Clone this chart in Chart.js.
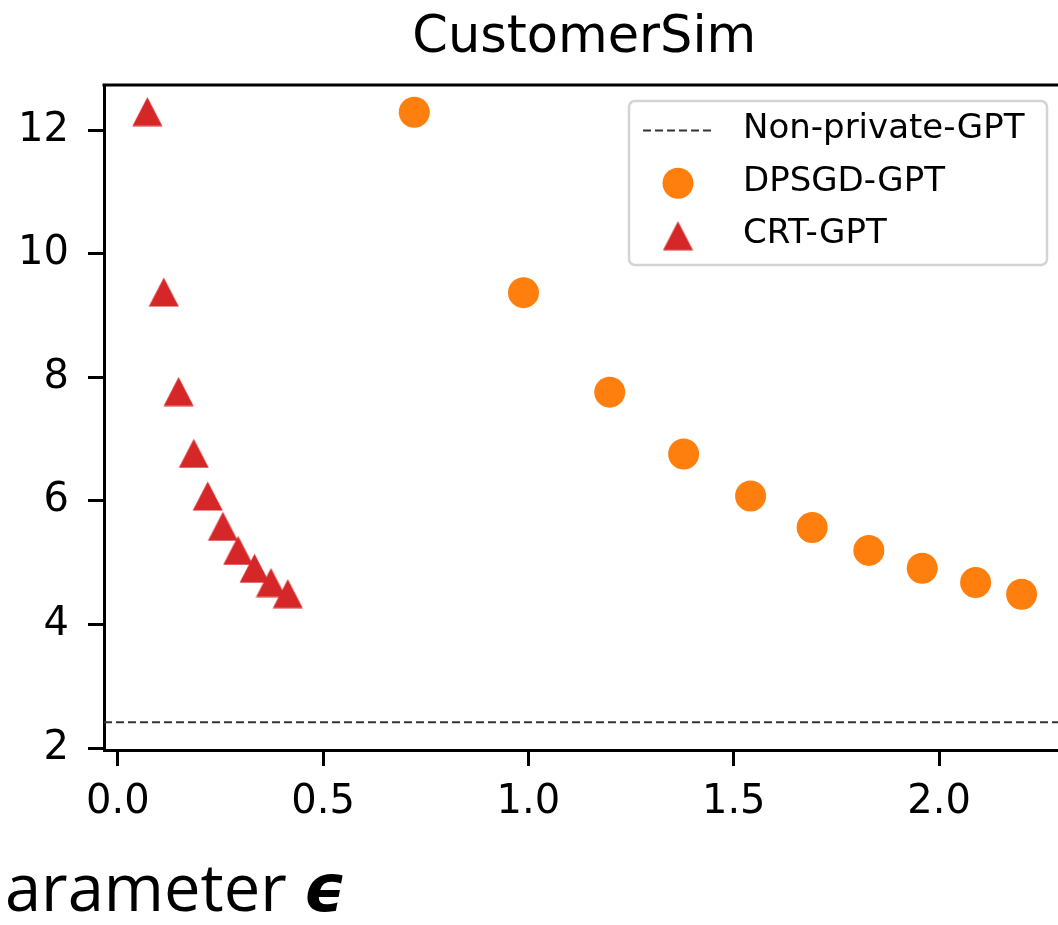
<!DOCTYPE html>
<html>
<head>
<meta charset="utf-8">
<script src="https://cdn.jsdelivr.net/npm/chart.js@4.4.1/dist/chart.umd.min.js"></script>
<style>
  html, body { margin: 0; padding: 0; background: #fff; overflow: hidden; }
  #quadro { position: relative; width: 1058px; height: 925px; overflow: hidden; }
  #grafico { position: absolute; left: 0; top: 0; }
  #rotuloEixo {
    position: absolute; left: 5px; top: 854px;
    font-family: "Open Sans", "DejaVu Sans", sans-serif; font-size: 65px;
    line-height: 1; color: #000; white-space: nowrap;
  }
  #rotuloEixo b { font-family: "DejaVu Sans", sans-serif; font-style: italic; }
</style>
</head>
<body>
<div id="quadro">
  <canvas id="grafico" width="1080" height="925"></canvas>
  <div id="rotuloEixo">arameter <b>ϵ</b></div>
</div>
<script>
const tituloGrafico = "CustomerSim";
const rotulosSeries = ["Non-private-GPT", "DPSGD-GPT", "CRT-GPT"];

// linha de referência (modelo sem privacidade)
const valorNaoPrivado = 2.42;

const dpsgdEpsilon = [0.722, 0.988, 1.198, 1.378, 1.541, 1.691, 1.829, 1.959, 2.089, 2.201];
const dpsgdValores = [12.29, 9.37, 7.76, 6.76, 6.08, 5.57, 5.20, 4.91, 4.68, 4.49];

const crtEpsilon = [0.072, 0.112, 0.148, 0.185, 0.219, 0.256, 0.293, 0.333, 0.373, 0.414];
const crtValores = [12.30, 9.38, 7.77, 6.77, 6.08, 5.59, 5.20, 4.91, 4.68, 4.50];

const ticksX = [0, 0.5, 1.0, 1.5, 2.0];
const ticksY = [2, 4, 6, 8, 10, 12];

const limitesX = [-0.0336, 2.3055];
const limitesY = [1.97, 12.73];

const corLaranja = "#ff7f0e";
const corVermelha = "#d62728";

function criarTriangulo(cor, largura, altura) {
  const c = document.createElement("canvas");
  c.width = largura;
  c.height = altura;
  const g = c.getContext("2d");
  g.fillStyle = cor;
  g.beginPath();
  g.moveTo(largura / 2, 0.5);
  g.lineTo(largura - 0.5, altura - 0.5);
  g.lineTo(0.5, altura - 0.5);
  g.closePath();
  g.fill();
  return c;
}

const triangulo = criarTriangulo(corVermelha, 31, 30);

function pontos(xs, ys) {
  return xs.map((x, i) => ({ x, y: ys[i] }));
}

// borda de cima do gráfico (o Chart.js só desenha a do eixo)
const bordaTopo = {
  id: "bordaTopo",
  afterDraw(chart) {
    const { ctx, chartArea } = chart;
    ctx.save();
    ctx.strokeStyle = "#000";
    ctx.lineWidth = 3;
    ctx.beginPath();
    ctx.moveTo(chartArea.left - 1.5, chartArea.top);
    ctx.lineTo(chartArea.right, chartArea.top);
    ctx.stroke();
    ctx.restore();
  },
};

// legenda no estilo do matplotlib, com caixa arredondada
const legendaManual = {
  id: "legendaManual",
  afterDraw(chart) {
    const ctx = chart.ctx;
    const ds = chart.data.datasets;
    ctx.save();
    ctx.fillStyle = "#fff";
    ctx.strokeStyle = "#d4d4d4";
    ctx.lineWidth = 2.5;
    ctx.beginPath();
    ctx.roundRect(629, 101, 418, 164, 6);
    ctx.fill();
    ctx.stroke();

    const xMarca = 678;
    const xTexto = 743;
    const linhas = [129.5, 181.8, 234.1];

    // linha tracejada
    ctx.strokeStyle = ds[0].borderColor;
    ctx.lineWidth = ds[0].borderWidth;
    ctx.setLineDash(ds[0].borderDash);
    ctx.beginPath();
    ctx.moveTo(643, 130.5);
    ctx.lineTo(713, 130.5);
    ctx.stroke();
    ctx.setLineDash([]);

    // círculo
    ctx.fillStyle = ds[1].backgroundColor;
    ctx.beginPath();
    ctx.arc(xMarca, 183.3, ds[1].pointRadius, 0, Math.PI * 2);
    ctx.fill();

    // triângulo
    ctx.drawImage(triangulo, xMarca - triangulo.width / 2, 235.7 - triangulo.height / 2);

    ctx.fillStyle = "#000";
    ctx.font = "34px 'DejaVu Sans'";
    ctx.textBaseline = "middle";
    ctx.textAlign = "left";
    ds.forEach((d, i) => ctx.fillText(d.label, xTexto, linhas[i]));
    ctx.restore();
  },
};

const fonteTicks = { family: "DejaVu Sans", size: 40 };

new Chart(document.getElementById("grafico"), {
  type: "scatter",
  data: {
    datasets: [
      {
        label: rotulosSeries[0],
        type: "line",
        data: pontos(limitesX, [valorNaoPrivado, valorNaoPrivado]),
        borderColor: "#333",
        borderWidth: 2,
        borderDash: [8, 4],
        pointRadius: 0,
        fill: false,
      },
      {
        label: rotulosSeries[1],
        data: pontos(dpsgdEpsilon, dpsgdValores),
        backgroundColor: corLaranja,
        borderWidth: 0,
        pointRadius: 15.5,
        pointStyle: "circle",
      },
      {
        label: rotulosSeries[2],
        data: pontos(crtEpsilon, crtValores),
        backgroundColor: corVermelha,
        borderWidth: 0,
        pointStyle: triangulo,
      },
    ],
  },
  options: {
    responsive: false,
    animation: false,
    devicePixelRatio: 1,
    events: [],
    layout: { padding: { left: 0, right: 2, top: 0, bottom: 0 } },
    plugins: {
      legend: { display: false },
      tooltip: { enabled: false },
      title: {
        display: true,
        text: tituloGrafico,
        fullSize: false,
        color: "#000",
        font: { family: "DejaVu Sans", size: 51, weight: "normal" },
        padding: { top: 8, bottom: 15.8 },
      },
    },
    scales: {
      x: {
        type: "linear",
        min: limitesX[0],
        max: limitesX[1],
        afterBuildTicks: (s) => { s.ticks = ticksX.map((v) => ({ value: v })); },
        afterFit: (s) => {
          s.height = 175;
          s.paddingLeft = 0;
          s.paddingRight = 0;
        },
        border: { display: true, color: "#000", width: 3 },
        grid: { drawOnChartArea: false, drawTicks: true, tickLength: 16, tickWidth: 3, tickColor: "#000" },
        ticks: {
          color: "#000",
          font: fonteTicks,
          padding: 13,
          maxRotation: 0,
          autoSkip: false,
          callback: (v) => Number(v).toFixed(1),
        },
      },
      y: {
        type: "linear",
        min: limitesY[0],
        max: limitesY[1],
        afterBuildTicks: (s) => { s.ticks = ticksY.map((v) => ({ value: v })); },
        afterFit: (s) => {
          s.width = 104;
          s.paddingTop = 0;
          s.paddingBottom = 0;
        },
        border: { display: true, color: "#000", width: 3 },
        grid: { drawOnChartArea: false, drawTicks: true, tickLength: 16, tickWidth: 3, tickColor: "#000" },
        ticks: {
          color: "#000",
          font: fonteTicks,
          padding: 19,
          autoSkip: false,
          callback: (v) => String(v),
        },
      },
    },
  },
  plugins: [bordaTopo, legendaManual],
});
</script>
</body>
</html>
